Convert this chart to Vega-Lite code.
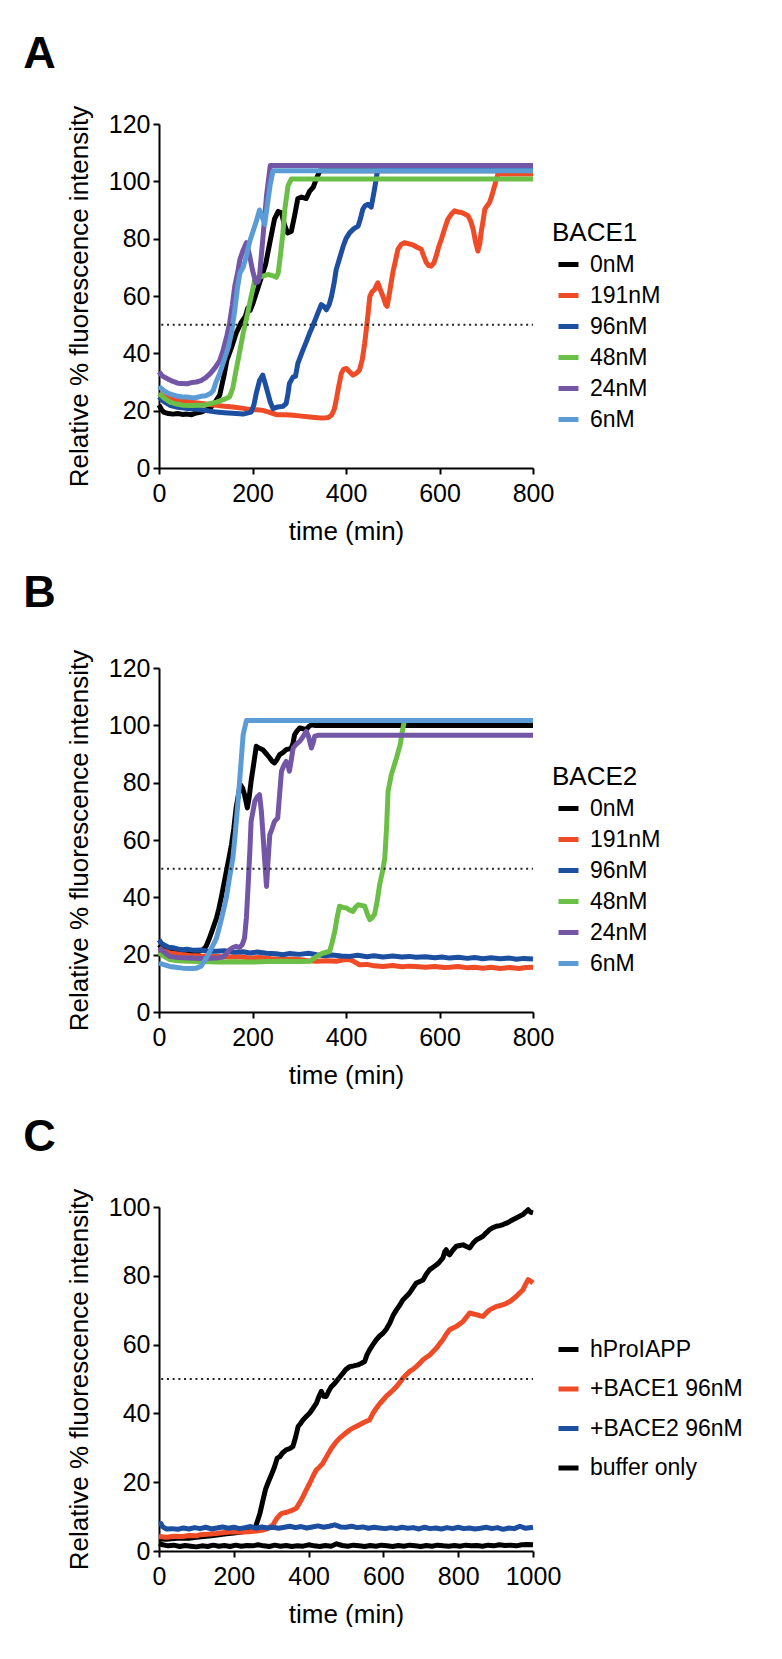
{
"$schema": "https://vega.github.io/schema/vega-lite/v6.json",
"background": "white",
"padding": {"left": 23, "top": 32, "right": 0, "bottom": 0},
"autosize": {"type": "pad"},
"spacing": 27,
"config": {
  "view": {"stroke": null},
  "font": "Liberation Sans",
  "axis": {"grid": false, "domainColor": "#000", "domainWidth": 2, "tickColor": "#000", "tickWidth": 2, "tickSize": 6,
           "labelFont": "Liberation Sans", "labelFontSize": 25, "labelColor": "#000", "labelFlush": false, "labelOverlap": false,
           "titleFont": "Liberation Sans", "titleFontSize": 26, "titleFontWeight": "normal", "titleColor": "#000"},
  "axisX": {"labelPadding": 7, "titlePadding": 12},
  "axisY": {"labelPadding": 3, "titlePadding": 16},
  "legend": {"symbolType": "stroke", "symbolSize": 400, "symbolStrokeWidth": 5, "labelFont": "Liberation Sans", "labelFontSize": 23, "labelColor": "#000",
             "titleFont": "Liberation Sans", "titleFontSize": 26, "titleFontWeight": "normal", "titleColor": "#000",
             "rowPadding": 6, "titlePadding": 6, "labelOffset": 9, "padding": 0, "symbolOffset": 4},
  "title": {"font": "Liberation Sans", "fontSize": 45, "fontWeight": "bold", "color": "#000", "anchor": "start", "frame": "bounds", "baseline": "alphabetic"}
},
"resolve": {"scale": {"color": "independent"}, "legend": {"color": "independent"}},
"datasets": {
"A": [
{"s":"0nM","t":0,"v":22},{"s":"0nM","t":5,"v":20.5},{"s":"0nM","t":10,"v":19.5},{"s":"0nM","t":20,"v":19},{"s":"0nM","t":30,"v":18.8},{"s":"0nM","t":40,"v":19},{"s":"0nM","t":50,"v":18.7},{"s":"0nM","t":60,"v":18.8},{"s":"0nM","t":70,"v":18.6},{"s":"0nM","t":80,"v":19.2},{"s":"0nM","t":90,"v":19.5},{"s":"0nM","t":100,"v":20.2},{"s":"0nM","t":110,"v":21},{"s":"0nM","t":120,"v":23},{"s":"0nM","t":130,"v":25.5},{"s":"0nM","t":140,"v":33},{"s":"0nM","t":145,"v":37.5},{"s":"0nM","t":155,"v":42},{"s":"0nM","t":165,"v":47},{"s":"0nM","t":175,"v":50.5},{"s":"0nM","t":185,"v":53},{"s":"0nM","t":190,"v":55.8},{"s":"0nM","t":195,"v":55},{"s":"0nM","t":200,"v":57},{"s":"0nM","t":210,"v":62},{"s":"0nM","t":220,"v":67},{"s":"0nM","t":228,"v":71},{"s":"0nM","t":237,"v":78.6},{"s":"0nM","t":247,"v":86.8},{"s":"0nM","t":255,"v":89.5},{"s":"0nM","t":262,"v":89},{"s":"0nM","t":268,"v":85},{"s":"0nM","t":275,"v":82},{"s":"0nM","t":283,"v":82.5},{"s":"0nM","t":290,"v":88},{"s":"0nM","t":297,"v":94},{"s":"0nM","t":305,"v":94.5},{"s":"0nM","t":315,"v":94},{"s":"0nM","t":322,"v":96.5},{"s":"0nM","t":330,"v":98},{"s":"0nM","t":337,"v":101},{"s":"0nM","t":344,"v":103.7},{"s":"0nM","t":800,"v":103.7},
{"s":"191nM","t":0,"v":26},{"s":"191nM","t":10,"v":25},{"s":"191nM","t":23,"v":24.2},{"s":"191nM","t":40,"v":23.8},{"s":"191nM","t":66,"v":23},{"s":"191nM","t":90,"v":22.5},{"s":"191nM","t":123,"v":21.9},{"s":"191nM","t":140,"v":21.5},{"s":"191nM","t":158,"v":21.3},{"s":"191nM","t":180,"v":20.8},{"s":"191nM","t":194,"v":20.4},{"s":"191nM","t":210,"v":20.3},{"s":"191nM","t":222,"v":20.1},{"s":"191nM","t":235,"v":19.5},{"s":"191nM","t":251,"v":18.6},{"s":"191nM","t":270,"v":18.6},{"s":"191nM","t":287,"v":18.4},{"s":"191nM","t":305,"v":18.1},{"s":"191nM","t":322,"v":17.8},{"s":"191nM","t":340,"v":17.5},{"s":"191nM","t":351,"v":17.4},{"s":"191nM","t":362,"v":17.6},{"s":"191nM","t":369,"v":18.4},{"s":"191nM","t":375,"v":20.5},{"s":"191nM","t":379,"v":23.6},{"s":"191nM","t":385,"v":29},{"s":"191nM","t":390,"v":33},{"s":"191nM","t":395,"v":34.5},{"s":"191nM","t":401,"v":34.7},{"s":"191nM","t":408,"v":33.5},{"s":"191nM","t":415,"v":32.4},{"s":"191nM","t":422,"v":33},{"s":"191nM","t":429,"v":34.2},{"s":"191nM","t":435,"v":38},{"s":"191nM","t":440,"v":43.5},{"s":"191nM","t":446,"v":52},{"s":"191nM","t":451,"v":59.9},{"s":"191nM","t":456,"v":61.5},{"s":"191nM","t":461,"v":62.2},{"s":"191nM","t":468,"v":64.6},{"s":"191nM","t":474,"v":62},{"s":"191nM","t":479,"v":59.9},{"s":"191nM","t":485,"v":57},{"s":"191nM","t":488,"v":56.4},{"s":"191nM","t":494,"v":62},{"s":"191nM","t":500,"v":68},{"s":"191nM","t":506,"v":72.5},{"s":"191nM","t":511,"v":76.3},{"s":"191nM","t":518,"v":78},{"s":"191nM","t":525,"v":78.6},{"s":"191nM","t":535,"v":78.2},{"s":"191nM","t":543,"v":77.8},{"s":"191nM","t":552,"v":77},{"s":"191nM","t":561,"v":76.3},{"s":"191nM","t":566,"v":74},{"s":"191nM","t":572,"v":71.6},{"s":"191nM","t":577,"v":70.6},{"s":"191nM","t":582,"v":70.4},{"s":"191nM","t":588,"v":71.5},{"s":"191nM","t":593,"v":74},{"s":"191nM","t":598,"v":77},{"s":"191nM","t":604,"v":79.8},{"s":"191nM","t":611,"v":83.5},{"s":"191nM","t":618,"v":86.8},{"s":"191nM","t":625,"v":88.5},{"s":"191nM","t":632,"v":89.7},{"s":"191nM","t":640,"v":89.3},{"s":"191nM","t":647,"v":89.1},{"s":"191nM","t":655,"v":88.5},{"s":"191nM","t":661,"v":88},{"s":"191nM","t":667,"v":86},{"s":"191nM","t":672,"v":83.3},{"s":"191nM","t":677,"v":79},{"s":"191nM","t":682,"v":75.7},{"s":"191nM","t":686,"v":78},{"s":"191nM","t":689,"v":82.1},{"s":"191nM","t":693,"v":86},{"s":"191nM","t":697,"v":90.3},{"s":"191nM","t":702,"v":91.5},{"s":"191nM","t":707,"v":92.6},{"s":"191nM","t":712,"v":95},{"s":"191nM","t":718,"v":98.5},{"s":"191nM","t":725,"v":102.6},{"s":"191nM","t":800,"v":102.6},
{"s":"96nM","t":0,"v":24.8},{"s":"96nM","t":10,"v":23.2},{"s":"96nM","t":23,"v":21.9},{"s":"96nM","t":40,"v":21.2},{"s":"96nM","t":66,"v":20.7},{"s":"96nM","t":90,"v":20.3},{"s":"96nM","t":123,"v":19.5},{"s":"96nM","t":140,"v":19.3},{"s":"96nM","t":165,"v":19},{"s":"96nM","t":180,"v":18.8},{"s":"96nM","t":197,"v":19.5},{"s":"96nM","t":203,"v":22},{"s":"96nM","t":208,"v":26},{"s":"96nM","t":215,"v":30.5},{"s":"96nM","t":222,"v":32.4},{"s":"96nM","t":228,"v":29},{"s":"96nM","t":233,"v":26},{"s":"96nM","t":238,"v":23},{"s":"96nM","t":244,"v":20.7},{"s":"96nM","t":254,"v":21.3},{"s":"96nM","t":265,"v":21.5},{"s":"96nM","t":272,"v":22.5},{"s":"96nM","t":276,"v":26},{"s":"96nM","t":279,"v":29.5},{"s":"96nM","t":287,"v":31.8},{"s":"96nM","t":292,"v":32},{"s":"96nM","t":297,"v":36.5},{"s":"96nM","t":308,"v":41.2},{"s":"96nM","t":315,"v":44},{"s":"96nM","t":322,"v":47},{"s":"96nM","t":330,"v":50},{"s":"96nM","t":337,"v":52.9},{"s":"96nM","t":347,"v":57},{"s":"96nM","t":352,"v":56.5},{"s":"96nM","t":358,"v":55.2},{"s":"96nM","t":364,"v":57},{"s":"96nM","t":369,"v":59.9},{"s":"96nM","t":374,"v":64},{"s":"96nM","t":379,"v":69.2},{"s":"96nM","t":386,"v":73},{"s":"96nM","t":394,"v":77.4},{"s":"96nM","t":400,"v":80},{"s":"96nM","t":408,"v":82.1},{"s":"96nM","t":417,"v":83.5},{"s":"96nM","t":426,"v":84.4},{"s":"96nM","t":431,"v":87},{"s":"96nM","t":436,"v":90.3},{"s":"96nM","t":441,"v":91.5},{"s":"96nM","t":447,"v":92},{"s":"96nM","t":454,"v":91},{"s":"96nM","t":461,"v":97.3},{"s":"96nM","t":468,"v":104.3},{"s":"96nM","t":800,"v":104.3},
{"s":"48nM","t":0,"v":26},{"s":"48nM","t":10,"v":24.5},{"s":"48nM","t":23,"v":23},{"s":"48nM","t":40,"v":22.2},{"s":"48nM","t":51,"v":21.9},{"s":"48nM","t":70,"v":21.8},{"s":"48nM","t":87,"v":21.9},{"s":"48nM","t":100,"v":22},{"s":"48nM","t":110,"v":22.5},{"s":"48nM","t":123,"v":23},{"s":"48nM","t":140,"v":24},{"s":"48nM","t":151,"v":24.8},{"s":"48nM","t":158,"v":28},{"s":"48nM","t":165,"v":34.2},{"s":"48nM","t":172,"v":40},{"s":"48nM","t":180,"v":47},{"s":"48nM","t":187,"v":52},{"s":"48nM","t":194,"v":57.5},{"s":"48nM","t":200,"v":62},{"s":"48nM","t":205,"v":65.7},{"s":"48nM","t":212,"v":66.5},{"s":"48nM","t":222,"v":66.9},{"s":"48nM","t":233,"v":67.5},{"s":"48nM","t":245,"v":67},{"s":"48nM","t":251,"v":66.5},{"s":"48nM","t":255,"v":68},{"s":"48nM","t":261,"v":76},{"s":"48nM","t":265,"v":82},{"s":"48nM","t":269,"v":90},{"s":"48nM","t":276,"v":98.5},{"s":"48nM","t":283,"v":100.8},{"s":"48nM","t":800,"v":100.8},
{"s":"24nM","t":0,"v":33.6},{"s":"24nM","t":5,"v":32.5},{"s":"24nM","t":10,"v":31.8},{"s":"24nM","t":20,"v":31},{"s":"24nM","t":30,"v":30.2},{"s":"24nM","t":40,"v":29.6},{"s":"24nM","t":50,"v":29.5},{"s":"24nM","t":60,"v":29.4},{"s":"24nM","t":70,"v":29.8},{"s":"24nM","t":80,"v":30},{"s":"24nM","t":90,"v":30.5},{"s":"24nM","t":100,"v":31.5},{"s":"24nM","t":110,"v":33},{"s":"24nM","t":120,"v":35},{"s":"24nM","t":130,"v":37.5},{"s":"24nM","t":137,"v":41},{"s":"24nM","t":145,"v":46},{"s":"24nM","t":151,"v":50.5},{"s":"24nM","t":157,"v":57},{"s":"24nM","t":162,"v":63.4},{"s":"24nM","t":168,"v":68},{"s":"24nM","t":173,"v":72.7},{"s":"24nM","t":180,"v":76},{"s":"24nM","t":187,"v":78.6},{"s":"24nM","t":194,"v":74},{"s":"24nM","t":200,"v":69},{"s":"24nM","t":207,"v":64.6},{"s":"24nM","t":212,"v":65},{"s":"24nM","t":215,"v":67},{"s":"24nM","t":222,"v":79.8},{"s":"24nM","t":230,"v":95},{"s":"24nM","t":238,"v":105.5},{"s":"24nM","t":800,"v":105.5},
{"s":"6nM","t":0,"v":28.5},{"s":"6nM","t":10,"v":27},{"s":"6nM","t":20,"v":26},{"s":"6nM","t":30,"v":25.5},{"s":"6nM","t":40,"v":25},{"s":"6nM","t":50,"v":24.8},{"s":"6nM","t":60,"v":24.8},{"s":"6nM","t":70,"v":24.5},{"s":"6nM","t":80,"v":24.6},{"s":"6nM","t":90,"v":25},{"s":"6nM","t":100,"v":25.2},{"s":"6nM","t":110,"v":26},{"s":"6nM","t":116,"v":27},{"s":"6nM","t":122,"v":30},{"s":"6nM","t":130,"v":33},{"s":"6nM","t":140,"v":38},{"s":"6nM","t":148,"v":42},{"s":"6nM","t":155,"v":47},{"s":"6nM","t":162,"v":55},{"s":"6nM","t":168,"v":63},{"s":"6nM","t":173,"v":68},{"s":"6nM","t":180,"v":70},{"s":"6nM","t":187,"v":74},{"s":"6nM","t":194,"v":79},{"s":"6nM","t":200,"v":82},{"s":"6nM","t":208,"v":86},{"s":"6nM","t":215,"v":90},{"s":"6nM","t":220,"v":88},{"s":"6nM","t":226,"v":85},{"s":"6nM","t":232,"v":92},{"s":"6nM","t":238,"v":99},{"s":"6nM","t":244,"v":103.7},{"s":"6nM","t":800,"v":103.7}
],
"B": [
{"s":"0nM","t":0,"v":23.5},{"s":"0nM","t":10,"v":22},{"s":"0nM","t":23,"v":21.2},{"s":"0nM","t":40,"v":20.9},{"s":"0nM","t":66,"v":20.6},{"s":"0nM","t":80,"v":20.8},{"s":"0nM","t":94,"v":21.7},{"s":"0nM","t":101,"v":23},{"s":"0nM","t":108,"v":25.8},{"s":"0nM","t":115,"v":29},{"s":"0nM","t":123,"v":32.8},{"s":"0nM","t":128,"v":36},{"s":"0nM","t":133,"v":39.8},{"s":"0nM","t":138,"v":44},{"s":"0nM","t":144,"v":49},{"s":"0nM","t":150,"v":54},{"s":"0nM","t":155,"v":58.4},{"s":"0nM","t":160,"v":64},{"s":"0nM","t":165,"v":71.2},{"s":"0nM","t":170,"v":76},{"s":"0nM","t":174,"v":79.3},{"s":"0nM","t":179,"v":78},{"s":"0nM","t":183,"v":75.8},{"s":"0nM","t":189,"v":71.2},{"s":"0nM","t":193,"v":75},{"s":"0nM","t":197,"v":80.5},{"s":"0nM","t":203,"v":87},{"s":"0nM","t":208,"v":92.7},{"s":"0nM","t":215,"v":92},{"s":"0nM","t":222,"v":91.5},{"s":"0nM","t":230,"v":90},{"s":"0nM","t":237,"v":88.6},{"s":"0nM","t":242,"v":87.5},{"s":"0nM","t":247,"v":86.9},{"s":"0nM","t":252,"v":88},{"s":"0nM","t":258,"v":89.8},{"s":"0nM","t":265,"v":90.5},{"s":"0nM","t":272,"v":91.5},{"s":"0nM","t":279,"v":91.8},{"s":"0nM","t":283,"v":92.1},{"s":"0nM","t":287,"v":94},{"s":"0nM","t":290,"v":96.7},{"s":"0nM","t":295,"v":98},{"s":"0nM","t":301,"v":99.1},{"s":"0nM","t":308,"v":98.8},{"s":"0nM","t":315,"v":98.5},{"s":"0nM","t":320,"v":99.5},{"s":"0nM","t":326,"v":100.2},{"s":"0nM","t":335,"v":99.9},{"s":"0nM","t":800,"v":99.9},
{"s":"191nM","t":0,"v":22.3},{"s":"191nM","t":10,"v":21.3},{"s":"191nM","t":23,"v":20.6},{"s":"191nM","t":40,"v":20.2},{"s":"191nM","t":66,"v":19.7},{"s":"191nM","t":90,"v":19.5},{"s":"191nM","t":123,"v":19.4},{"s":"191nM","t":150,"v":19.2},{"s":"191nM","t":175,"v":19.3},{"s":"191nM","t":194,"v":18.8},{"s":"191nM","t":215,"v":19},{"s":"191nM","t":240,"v":18.6},{"s":"191nM","t":265,"v":18.3},{"s":"191nM","t":290,"v":18.5},{"s":"191nM","t":315,"v":18},{"s":"191nM","t":337,"v":17.7},{"s":"191nM","t":360,"v":17.9},{"s":"191nM","t":379,"v":17.7},{"s":"191nM","t":395,"v":18.2},{"s":"191nM","t":408,"v":18.3},{"s":"191nM","t":418,"v":17.5},{"s":"191nM","t":429,"v":16.5},{"s":"191nM","t":445,"v":16.6},{"s":"191nM","t":460,"v":16.1},{"s":"191nM","t":479,"v":15.9},{"s":"191nM","t":500,"v":16.2},{"s":"191nM","t":520,"v":15.8},{"s":"191nM","t":535,"v":16},{"s":"191nM","t":550,"v":15.9},{"s":"191nM","t":570,"v":15.6},{"s":"191nM","t":590,"v":15.9},{"s":"191nM","t":610,"v":15.5},{"s":"191nM","t":622,"v":15.6},{"s":"191nM","t":640,"v":15.9},{"s":"191nM","t":660,"v":15.4},{"s":"191nM","t":675,"v":15.6},{"s":"191nM","t":693,"v":15.3},{"s":"191nM","t":710,"v":15.6},{"s":"191nM","t":730,"v":15.2},{"s":"191nM","t":750,"v":15.5},{"s":"191nM","t":770,"v":15.2},{"s":"191nM","t":785,"v":15.5},{"s":"191nM","t":800,"v":15.6},
{"s":"96nM","t":0,"v":25.2},{"s":"96nM","t":5,"v":24},{"s":"96nM","t":10,"v":23.5},{"s":"96nM","t":20,"v":22.6},{"s":"96nM","t":30,"v":22.4},{"s":"96nM","t":40,"v":22},{"s":"96nM","t":51,"v":21.7},{"s":"96nM","t":60,"v":21.9},{"s":"96nM","t":75,"v":21.5},{"s":"96nM","t":90,"v":21.6},{"s":"96nM","t":105,"v":21.2},{"s":"96nM","t":123,"v":21.2},{"s":"96nM","t":140,"v":21.4},{"s":"96nM","t":160,"v":20.8},{"s":"96nM","t":180,"v":21},{"s":"96nM","t":194,"v":20.6},{"s":"96nM","t":210,"v":20.9},{"s":"96nM","t":230,"v":20.5},{"s":"96nM","t":250,"v":20.3},{"s":"96nM","t":265,"v":20},{"s":"96nM","t":280,"v":20.4},{"s":"96nM","t":300,"v":20.1},{"s":"96nM","t":320,"v":20.5},{"s":"96nM","t":337,"v":20},{"s":"96nM","t":355,"v":19.6},{"s":"96nM","t":370,"v":19.9},{"s":"96nM","t":390,"v":19.5},{"s":"96nM","t":408,"v":19.4},{"s":"96nM","t":425,"v":19.8},{"s":"96nM","t":445,"v":19.3},{"s":"96nM","t":460,"v":19.6},{"s":"96nM","t":479,"v":19.2},{"s":"96nM","t":500,"v":19.5},{"s":"96nM","t":520,"v":19.2},{"s":"96nM","t":535,"v":19.4},{"s":"96nM","t":550,"v":19.1},{"s":"96nM","t":570,"v":19.3},{"s":"96nM","t":590,"v":18.9},{"s":"96nM","t":605,"v":19.2},{"s":"96nM","t":622,"v":18.8},{"s":"96nM","t":640,"v":19.1},{"s":"96nM","t":660,"v":18.7},{"s":"96nM","t":675,"v":19},{"s":"96nM","t":693,"v":18.6},{"s":"96nM","t":710,"v":18.9},{"s":"96nM","t":730,"v":18.6},{"s":"96nM","t":750,"v":18.8},{"s":"96nM","t":765,"v":18.4},{"s":"96nM","t":780,"v":18.7},{"s":"96nM","t":800,"v":18.5},
{"s":"48nM","t":0,"v":20.6},{"s":"48nM","t":10,"v":19.5},{"s":"48nM","t":23,"v":18.3},{"s":"48nM","t":40,"v":17.9},{"s":"48nM","t":66,"v":17.7},{"s":"48nM","t":90,"v":17.6},{"s":"48nM","t":123,"v":17.4},{"s":"48nM","t":160,"v":17.5},{"s":"48nM","t":194,"v":17.4},{"s":"48nM","t":230,"v":17.6},{"s":"48nM","t":265,"v":17.7},{"s":"48nM","t":300,"v":17.6},{"s":"48nM","t":322,"v":17.7},{"s":"48nM","t":330,"v":18.5},{"s":"48nM","t":337,"v":19.4},{"s":"48nM","t":350,"v":20.5},{"s":"48nM","t":365,"v":21.2},{"s":"48nM","t":370,"v":24},{"s":"48nM","t":376,"v":28.1},{"s":"48nM","t":381,"v":33},{"s":"48nM","t":386,"v":36.9},{"s":"48nM","t":393,"v":36.5},{"s":"48nM","t":401,"v":36.3},{"s":"48nM","t":408,"v":35.5},{"s":"48nM","t":415,"v":35.1},{"s":"48nM","t":420,"v":36.5},{"s":"48nM","t":426,"v":37.4},{"s":"48nM","t":433,"v":37.2},{"s":"48nM","t":440,"v":36.9},{"s":"48nM","t":446,"v":34},{"s":"48nM","t":451,"v":32.2},{"s":"48nM","t":456,"v":33},{"s":"48nM","t":461,"v":34},{"s":"48nM","t":466,"v":38},{"s":"48nM","t":472,"v":44.4},{"s":"48nM","t":478,"v":49},{"s":"48nM","t":483,"v":53.7},{"s":"48nM","t":487,"v":65},{"s":"48nM","t":490,"v":77},{"s":"48nM","t":497,"v":82.8},{"s":"48nM","t":503,"v":86},{"s":"48nM","t":508,"v":88.6},{"s":"48nM","t":512,"v":91},{"s":"48nM","t":516,"v":93.3},{"s":"48nM","t":520,"v":97.5},{"s":"48nM","t":525,"v":101.7},{"s":"48nM","t":800,"v":101.7},
{"s":"24nM","t":0,"v":22.3},{"s":"24nM","t":10,"v":21},{"s":"24nM","t":23,"v":19.4},{"s":"24nM","t":40,"v":19},{"s":"24nM","t":66,"v":18.8},{"s":"24nM","t":90,"v":18.7},{"s":"24nM","t":123,"v":18.8},{"s":"24nM","t":137,"v":19.2},{"s":"24nM","t":145,"v":20.5},{"s":"24nM","t":151,"v":21.7},{"s":"24nM","t":158,"v":22.5},{"s":"24nM","t":165,"v":22.9},{"s":"24nM","t":172,"v":22.5},{"s":"24nM","t":178,"v":23.5},{"s":"24nM","t":183,"v":25.8},{"s":"24nM","t":187,"v":33},{"s":"24nM","t":190,"v":42.1},{"s":"24nM","t":194,"v":55},{"s":"24nM","t":197,"v":66.5},{"s":"24nM","t":201,"v":70},{"s":"24nM","t":205,"v":73.5},{"s":"24nM","t":210,"v":75},{"s":"24nM","t":215,"v":75.8},{"s":"24nM","t":219,"v":70},{"s":"24nM","t":222,"v":63},{"s":"24nM","t":226,"v":53},{"s":"24nM","t":230,"v":43.8},{"s":"24nM","t":233,"v":52},{"s":"24nM","t":237,"v":61.9},{"s":"24nM","t":242,"v":64},{"s":"24nM","t":247,"v":66.5},{"s":"24nM","t":254,"v":67.7},{"s":"24nM","t":258,"v":76},{"s":"24nM","t":262,"v":84},{"s":"24nM","t":267,"v":86},{"s":"24nM","t":272,"v":87.4},{"s":"24nM","t":276,"v":86},{"s":"24nM","t":279,"v":84},{"s":"24nM","t":283,"v":88},{"s":"24nM","t":287,"v":92.1},{"s":"24nM","t":294,"v":93.5},{"s":"24nM","t":301,"v":94.4},{"s":"24nM","t":308,"v":96},{"s":"24nM","t":315,"v":97.9},{"s":"24nM","t":320,"v":96},{"s":"24nM","t":326,"v":92.1},{"s":"24nM","t":330,"v":94},{"s":"24nM","t":333,"v":96.2},{"s":"24nM","t":340,"v":96.5},{"s":"24nM","t":800,"v":96.5},
{"s":"6nM","t":0,"v":17.1},{"s":"6nM","t":10,"v":16.5},{"s":"6nM","t":23,"v":15.9},{"s":"6nM","t":40,"v":15.5},{"s":"6nM","t":51,"v":15.3},{"s":"6nM","t":66,"v":15.2},{"s":"6nM","t":80,"v":15.3},{"s":"6nM","t":90,"v":16},{"s":"6nM","t":101,"v":18.8},{"s":"6nM","t":110,"v":21.5},{"s":"6nM","t":123,"v":25.8},{"s":"6nM","t":133,"v":32},{"s":"6nM","t":144,"v":39.8},{"s":"6nM","t":150,"v":46},{"s":"6nM","t":158,"v":53.7},{"s":"6nM","t":163,"v":62},{"s":"6nM","t":169,"v":73.5},{"s":"6nM","t":175,"v":86},{"s":"6nM","t":180,"v":96.7},{"s":"6nM","t":187,"v":101.7},{"s":"6nM","t":800,"v":101.7}
],
"C": [
{"s":"hProIAPP","t":0,"v":3.5},{"s":"hProIAPP","t":20,"v":3.4},{"s":"hProIAPP","t":40,"v":3.6},{"s":"hProIAPP","t":60,"v":3.8},{"s":"hProIAPP","t":80,"v":3.7},{"s":"hProIAPP","t":100,"v":4},{"s":"hProIAPP","t":120,"v":4.2},{"s":"hProIAPP","t":140,"v":4.4},{"s":"hProIAPP","t":160,"v":4.7},{"s":"hProIAPP","t":180,"v":5},{"s":"hProIAPP","t":200,"v":5.2},{"s":"hProIAPP","t":220,"v":5.5},{"s":"hProIAPP","t":240,"v":5.8},{"s":"hProIAPP","t":255,"v":6.5},{"s":"hProIAPP","t":260,"v":7.6},{"s":"hProIAPP","t":270,"v":11},{"s":"hProIAPP","t":278,"v":14.8},{"s":"hProIAPP","t":285,"v":18},{"s":"hProIAPP","t":291,"v":19.7},{"s":"hProIAPP","t":300,"v":22},{"s":"hProIAPP","t":309,"v":24.5},{"s":"hProIAPP","t":316,"v":27},{"s":"hProIAPP","t":323,"v":27.4},{"s":"hProIAPP","t":330,"v":28.5},{"s":"hProIAPP","t":340,"v":29.4},{"s":"hProIAPP","t":350,"v":29.8},{"s":"hProIAPP","t":358,"v":30.4},{"s":"hProIAPP","t":365,"v":33},{"s":"hProIAPP","t":372,"v":36.2},{"s":"hProIAPP","t":378,"v":37},{"s":"hProIAPP","t":385,"v":38.1},{"s":"hProIAPP","t":393,"v":39},{"s":"hProIAPP","t":403,"v":40.1},{"s":"hProIAPP","t":412,"v":41.5},{"s":"hProIAPP","t":421,"v":43},{"s":"hProIAPP","t":428,"v":45},{"s":"hProIAPP","t":434,"v":46.4},{"s":"hProIAPP","t":440,"v":45},{"s":"hProIAPP","t":447,"v":44.9},{"s":"hProIAPP","t":454,"v":46.5},{"s":"hProIAPP","t":461,"v":47.8},{"s":"hProIAPP","t":468,"v":48.5},{"s":"hProIAPP","t":474,"v":49.3},{"s":"hProIAPP","t":483,"v":50.5},{"s":"hProIAPP","t":492,"v":51.7},{"s":"hProIAPP","t":500,"v":52.8},{"s":"hProIAPP","t":510,"v":53.6},{"s":"hProIAPP","t":520,"v":53.8},{"s":"hProIAPP","t":532,"v":54.1},{"s":"hProIAPP","t":540,"v":54.5},{"s":"hProIAPP","t":550,"v":55.1},{"s":"hProIAPP","t":556,"v":57},{"s":"hProIAPP","t":563,"v":58.5},{"s":"hProIAPP","t":572,"v":60},{"s":"hProIAPP","t":581,"v":61.4},{"s":"hProIAPP","t":590,"v":62.5},{"s":"hProIAPP","t":599,"v":63.3},{"s":"hProIAPP","t":608,"v":64.5},{"s":"hProIAPP","t":617,"v":66.2},{"s":"hProIAPP","t":626,"v":68.5},{"s":"hProIAPP","t":635,"v":70.1},{"s":"hProIAPP","t":644,"v":71.5},{"s":"hProIAPP","t":652,"v":73},{"s":"hProIAPP","t":661,"v":74},{"s":"hProIAPP","t":670,"v":75},{"s":"hProIAPP","t":679,"v":76.5},{"s":"hProIAPP","t":688,"v":77.9},{"s":"hProIAPP","t":697,"v":78.3},{"s":"hProIAPP","t":706,"v":78.8},{"s":"hProIAPP","t":715,"v":80.5},{"s":"hProIAPP","t":724,"v":81.8},{"s":"hProIAPP","t":733,"v":82.5},{"s":"hProIAPP","t":742,"v":83.2},{"s":"hProIAPP","t":750,"v":84},{"s":"hProIAPP","t":759,"v":85.2},{"s":"hProIAPP","t":764,"v":87},{"s":"hProIAPP","t":768,"v":87.6},{"s":"hProIAPP","t":772,"v":86.5},{"s":"hProIAPP","t":777,"v":86.1},{"s":"hProIAPP","t":786,"v":87.5},{"s":"hProIAPP","t":795,"v":88.6},{"s":"hProIAPP","t":804,"v":88.8},{"s":"hProIAPP","t":813,"v":89},{"s":"hProIAPP","t":822,"v":88.5},{"s":"hProIAPP","t":831,"v":88.1},{"s":"hProIAPP","t":840,"v":89.5},{"s":"hProIAPP","t":849,"v":90.5},{"s":"hProIAPP","t":858,"v":91},{"s":"hProIAPP","t":866,"v":91.5},{"s":"hProIAPP","t":875,"v":92.5},{"s":"hProIAPP","t":884,"v":93.4},{"s":"hProIAPP","t":893,"v":94},{"s":"hProIAPP","t":902,"v":94.4},{"s":"hProIAPP","t":911,"v":94.6},{"s":"hProIAPP","t":920,"v":94.9},{"s":"hProIAPP","t":929,"v":95.3},{"s":"hProIAPP","t":938,"v":95.8},{"s":"hProIAPP","t":946,"v":96.3},{"s":"hProIAPP","t":955,"v":96.8},{"s":"hProIAPP","t":964,"v":97.3},{"s":"hProIAPP","t":973,"v":97.8},{"s":"hProIAPP","t":980,"v":98.5},{"s":"hProIAPP","t":987,"v":99.2},{"s":"hProIAPP","t":993,"v":98.5},{"s":"hProIAPP","t":1000,"v":98.3},
{"s":"+BACE1 96nM","t":0,"v":4.2},{"s":"+BACE1 96nM","t":20,"v":4},{"s":"+BACE1 96nM","t":40,"v":4.3},{"s":"+BACE1 96nM","t":64,"v":4.2},{"s":"+BACE1 96nM","t":80,"v":4.5},{"s":"+BACE1 96nM","t":100,"v":4.4},{"s":"+BACE1 96nM","t":109,"v":4.7},{"s":"+BACE1 96nM","t":130,"v":4.9},{"s":"+BACE1 96nM","t":153,"v":5.1},{"s":"+BACE1 96nM","t":175,"v":5.4},{"s":"+BACE1 96nM","t":198,"v":5.6},{"s":"+BACE1 96nM","t":220,"v":5.5},{"s":"+BACE1 96nM","t":242,"v":5.6},{"s":"+BACE1 96nM","t":260,"v":5.8},{"s":"+BACE1 96nM","t":278,"v":6.1},{"s":"+BACE1 96nM","t":290,"v":6.5},{"s":"+BACE1 96nM","t":305,"v":7.6},{"s":"+BACE1 96nM","t":315,"v":9.5},{"s":"+BACE1 96nM","t":323,"v":10.5},{"s":"+BACE1 96nM","t":330,"v":11},{"s":"+BACE1 96nM","t":340,"v":11.2},{"s":"+BACE1 96nM","t":355,"v":11.8},{"s":"+BACE1 96nM","t":367,"v":12.4},{"s":"+BACE1 96nM","t":376,"v":14},{"s":"+BACE1 96nM","t":385,"v":15.8},{"s":"+BACE1 96nM","t":394,"v":17.8},{"s":"+BACE1 96nM","t":403,"v":19.7},{"s":"+BACE1 96nM","t":412,"v":21.8},{"s":"+BACE1 96nM","t":421,"v":23.6},{"s":"+BACE1 96nM","t":430,"v":24.5},{"s":"+BACE1 96nM","t":438,"v":25.5},{"s":"+BACE1 96nM","t":450,"v":27.8},{"s":"+BACE1 96nM","t":461,"v":29.9},{"s":"+BACE1 96nM","t":472,"v":31.5},{"s":"+BACE1 96nM","t":483,"v":32.8},{"s":"+BACE1 96nM","t":496,"v":34},{"s":"+BACE1 96nM","t":510,"v":35.2},{"s":"+BACE1 96nM","t":523,"v":36},{"s":"+BACE1 96nM","t":536,"v":36.7},{"s":"+BACE1 96nM","t":550,"v":37.5},{"s":"+BACE1 96nM","t":563,"v":38.1},{"s":"+BACE1 96nM","t":572,"v":40},{"s":"+BACE1 96nM","t":581,"v":41.5},{"s":"+BACE1 96nM","t":590,"v":42.8},{"s":"+BACE1 96nM","t":599,"v":43.9},{"s":"+BACE1 96nM","t":608,"v":45},{"s":"+BACE1 96nM","t":617,"v":45.9},{"s":"+BACE1 96nM","t":626,"v":46.8},{"s":"+BACE1 96nM","t":635,"v":47.8},{"s":"+BACE1 96nM","t":644,"v":49},{"s":"+BACE1 96nM","t":652,"v":50.2},{"s":"+BACE1 96nM","t":661,"v":51.2},{"s":"+BACE1 96nM","t":670,"v":52.2},{"s":"+BACE1 96nM","t":679,"v":52.8},{"s":"+BACE1 96nM","t":688,"v":53.6},{"s":"+BACE1 96nM","t":697,"v":54.6},{"s":"+BACE1 96nM","t":706,"v":55.6},{"s":"+BACE1 96nM","t":715,"v":56.3},{"s":"+BACE1 96nM","t":724,"v":57},{"s":"+BACE1 96nM","t":733,"v":58},{"s":"+BACE1 96nM","t":742,"v":59},{"s":"+BACE1 96nM","t":750,"v":60.2},{"s":"+BACE1 96nM","t":759,"v":61.4},{"s":"+BACE1 96nM","t":768,"v":63},{"s":"+BACE1 96nM","t":777,"v":64.3},{"s":"+BACE1 96nM","t":786,"v":64.8},{"s":"+BACE1 96nM","t":795,"v":65.3},{"s":"+BACE1 96nM","t":804,"v":66},{"s":"+BACE1 96nM","t":813,"v":66.7},{"s":"+BACE1 96nM","t":822,"v":68},{"s":"+BACE1 96nM","t":831,"v":69.2},{"s":"+BACE1 96nM","t":840,"v":68.9},{"s":"+BACE1 96nM","t":849,"v":68.7},{"s":"+BACE1 96nM","t":857,"v":68.4},{"s":"+BACE1 96nM","t":866,"v":68.2},{"s":"+BACE1 96nM","t":875,"v":69.2},{"s":"+BACE1 96nM","t":884,"v":70.1},{"s":"+BACE1 96nM","t":893,"v":70.6},{"s":"+BACE1 96nM","t":902,"v":71.1},{"s":"+BACE1 96nM","t":911,"v":71.3},{"s":"+BACE1 96nM","t":920,"v":71.6},{"s":"+BACE1 96nM","t":929,"v":72},{"s":"+BACE1 96nM","t":938,"v":72.5},{"s":"+BACE1 96nM","t":946,"v":73.2},{"s":"+BACE1 96nM","t":955,"v":74},{"s":"+BACE1 96nM","t":964,"v":75},{"s":"+BACE1 96nM","t":973,"v":75.9},{"s":"+BACE1 96nM","t":980,"v":77.5},{"s":"+BACE1 96nM","t":987,"v":78.9},{"s":"+BACE1 96nM","t":993,"v":78.5},{"s":"+BACE1 96nM","t":1000,"v":77.9},
{"s":"+BACE2 96nM","t":0,"v":7.8},{"s":"+BACE2 96nM","t":5,"v":8},{"s":"+BACE2 96nM","t":10,"v":7},{"s":"+BACE2 96nM","t":20,"v":6.4},{"s":"+BACE2 96nM","t":35,"v":6.5},{"s":"+BACE2 96nM","t":50,"v":6.3},{"s":"+BACE2 96nM","t":65,"v":6.7},{"s":"+BACE2 96nM","t":80,"v":6.4},{"s":"+BACE2 96nM","t":95,"v":6.8},{"s":"+BACE2 96nM","t":110,"v":6.5},{"s":"+BACE2 96nM","t":125,"v":6.9},{"s":"+BACE2 96nM","t":140,"v":6.4},{"s":"+BACE2 96nM","t":155,"v":6.7},{"s":"+BACE2 96nM","t":170,"v":7},{"s":"+BACE2 96nM","t":185,"v":6.6},{"s":"+BACE2 96nM","t":200,"v":6.9},{"s":"+BACE2 96nM","t":215,"v":6.5},{"s":"+BACE2 96nM","t":230,"v":6.8},{"s":"+BACE2 96nM","t":245,"v":7.1},{"s":"+BACE2 96nM","t":260,"v":6.6},{"s":"+BACE2 96nM","t":275,"v":7},{"s":"+BACE2 96nM","t":290,"v":6.7},{"s":"+BACE2 96nM","t":305,"v":6.9},{"s":"+BACE2 96nM","t":320,"v":6.6},{"s":"+BACE2 96nM","t":335,"v":6.9},{"s":"+BACE2 96nM","t":350,"v":7.2},{"s":"+BACE2 96nM","t":365,"v":6.8},{"s":"+BACE2 96nM","t":380,"v":7.1},{"s":"+BACE2 96nM","t":395,"v":6.7},{"s":"+BACE2 96nM","t":410,"v":7},{"s":"+BACE2 96nM","t":425,"v":7.3},{"s":"+BACE2 96nM","t":440,"v":6.9},{"s":"+BACE2 96nM","t":455,"v":7.2},{"s":"+BACE2 96nM","t":470,"v":7.6},{"s":"+BACE2 96nM","t":485,"v":7},{"s":"+BACE2 96nM","t":500,"v":6.9},{"s":"+BACE2 96nM","t":515,"v":7.2},{"s":"+BACE2 96nM","t":530,"v":6.8},{"s":"+BACE2 96nM","t":545,"v":7},{"s":"+BACE2 96nM","t":560,"v":6.6},{"s":"+BACE2 96nM","t":575,"v":6.9},{"s":"+BACE2 96nM","t":590,"v":6.7},{"s":"+BACE2 96nM","t":605,"v":6.5},{"s":"+BACE2 96nM","t":620,"v":6.8},{"s":"+BACE2 96nM","t":635,"v":6.5},{"s":"+BACE2 96nM","t":650,"v":6.9},{"s":"+BACE2 96nM","t":665,"v":6.6},{"s":"+BACE2 96nM","t":680,"v":6.8},{"s":"+BACE2 96nM","t":695,"v":6.4},{"s":"+BACE2 96nM","t":710,"v":6.9},{"s":"+BACE2 96nM","t":725,"v":6.5},{"s":"+BACE2 96nM","t":740,"v":6.7},{"s":"+BACE2 96nM","t":755,"v":6.4},{"s":"+BACE2 96nM","t":770,"v":6.8},{"s":"+BACE2 96nM","t":785,"v":6.5},{"s":"+BACE2 96nM","t":800,"v":6.9},{"s":"+BACE2 96nM","t":815,"v":6.5},{"s":"+BACE2 96nM","t":830,"v":6.7},{"s":"+BACE2 96nM","t":845,"v":6.4},{"s":"+BACE2 96nM","t":860,"v":6.6},{"s":"+BACE2 96nM","t":875,"v":6.9},{"s":"+BACE2 96nM","t":890,"v":6.5},{"s":"+BACE2 96nM","t":905,"v":6.8},{"s":"+BACE2 96nM","t":920,"v":6.3},{"s":"+BACE2 96nM","t":935,"v":6.7},{"s":"+BACE2 96nM","t":950,"v":6.5},{"s":"+BACE2 96nM","t":965,"v":7.2},{"s":"+BACE2 96nM","t":980,"v":6.6},{"s":"+BACE2 96nM","t":1000,"v":6.9},
{"s":"buffer only","t":0,"v":2.2},{"s":"buffer only","t":10,"v":1.8},{"s":"buffer only","t":25,"v":1.5},{"s":"buffer only","t":40,"v":1.7},{"s":"buffer only","t":55,"v":1.3},{"s":"buffer only","t":70,"v":1.6},{"s":"buffer only","t":85,"v":1.4},{"s":"buffer only","t":100,"v":1.2},{"s":"buffer only","t":115,"v":1.5},{"s":"buffer only","t":130,"v":1.3},{"s":"buffer only","t":145,"v":1.7},{"s":"buffer only","t":160,"v":1.4},{"s":"buffer only","t":175,"v":1.6},{"s":"buffer only","t":190,"v":1.3},{"s":"buffer only","t":205,"v":1.7},{"s":"buffer only","t":220,"v":1.4},{"s":"buffer only","t":235,"v":1.6},{"s":"buffer only","t":250,"v":1.5},{"s":"buffer only","t":265,"v":1.8},{"s":"buffer only","t":280,"v":1.5},{"s":"buffer only","t":295,"v":1.3},{"s":"buffer only","t":310,"v":1.7},{"s":"buffer only","t":325,"v":1.4},{"s":"buffer only","t":340,"v":1.6},{"s":"buffer only","t":355,"v":1.3},{"s":"buffer only","t":370,"v":1.5},{"s":"buffer only","t":385,"v":1.4},{"s":"buffer only","t":400,"v":1.8},{"s":"buffer only","t":415,"v":1.5},{"s":"buffer only","t":430,"v":1.3},{"s":"buffer only","t":445,"v":1.6},{"s":"buffer only","t":460,"v":1.4},{"s":"buffer only","t":475,"v":2.1},{"s":"buffer only","t":490,"v":1.6},{"s":"buffer only","t":505,"v":1.4},{"s":"buffer only","t":520,"v":1.7},{"s":"buffer only","t":535,"v":1.5},{"s":"buffer only","t":550,"v":1.3},{"s":"buffer only","t":565,"v":1.6},{"s":"buffer only","t":580,"v":1.4},{"s":"buffer only","t":595,"v":1.7},{"s":"buffer only","t":610,"v":1.5},{"s":"buffer only","t":625,"v":1.3},{"s":"buffer only","t":640,"v":1.6},{"s":"buffer only","t":655,"v":1.4},{"s":"buffer only","t":670,"v":1.7},{"s":"buffer only","t":685,"v":1.5},{"s":"buffer only","t":700,"v":1.3},{"s":"buffer only","t":715,"v":1.6},{"s":"buffer only","t":730,"v":1.4},{"s":"buffer only","t":745,"v":1.7},{"s":"buffer only","t":760,"v":1.5},{"s":"buffer only","t":775,"v":1.4},{"s":"buffer only","t":790,"v":1.6},{"s":"buffer only","t":805,"v":1.4},{"s":"buffer only","t":820,"v":1.7},{"s":"buffer only","t":835,"v":1.5},{"s":"buffer only","t":850,"v":1.6},{"s":"buffer only","t":865,"v":1.4},{"s":"buffer only","t":880,"v":1.7},{"s":"buffer only","t":895,"v":1.5},{"s":"buffer only","t":910,"v":1.8},{"s":"buffer only","t":925,"v":1.6},{"s":"buffer only","t":940,"v":1.7},{"s":"buffer only","t":955,"v":1.5},{"s":"buffer only","t":970,"v":1.8},{"s":"buffer only","t":985,"v":1.9},{"s":"buffer only","t":1000,"v":1.8}
],
"refAB": [{"t":5,"t2":800,"v":50}],
"refC": [{"t":6,"t2":1000,"v":50}]
},
"vconcat": [
{
 "title": {"text": "A", "dx": -43, "offset": 28},
 "width": 374, "height": 344,
 "layer": [
  {"data": {"name": "A"}, "mark": {"type": "line", "strokeWidth": 5, "strokeJoin": "round"},
   "encoding": {
    "x": {"field": "t", "type": "quantitative", "scale": {"domain": [0, 800], "nice": false}, "axis": {"values": [0,200,400,600,800], "format": "d", "title": "time (min)"}},
    "y": {"field": "v", "type": "quantitative", "scale": {"domain": [0, 120], "nice": false}, "axis": {"values": [0,20,40,60,80,100,120], "title": "Relative % fluorescence intensity"}},
    "color": {"field": "s", "type": "nominal", "sort": null,
      "scale": {"domain": ["0nM","191nM","96nM","48nM","24nM","6nM"], "range": ["#000000","#EF4B26","#1D4FA0","#6CBF46","#7356A6","#5C9CD6"]},
      "legend": {"title": "BACE1", "orient": "none", "legendX": 393, "legendY": 96}}
   }},
  {"data": {"name": "refAB"}, "mark": {"type": "rule", "strokeWidth": 2, "strokeDash": [2, 3.7], "color": "#222"},
   "encoding": {"x": {"field": "t", "type": "quantitative"}, "x2": {"field": "t2"}, "y": {"field": "v", "type": "quantitative"}}}
 ]
},
{
 "title": {"text": "B", "dx": -43, "offset": 33},
 "width": 374, "height": 344,
 "layer": [
  {"data": {"name": "B"}, "mark": {"type": "line", "strokeWidth": 5, "strokeJoin": "round"},
   "encoding": {
    "x": {"field": "t", "type": "quantitative", "scale": {"domain": [0, 800], "nice": false}, "axis": {"values": [0,200,400,600,800], "format": "d", "title": "time (min)"}},
    "y": {"field": "v", "type": "quantitative", "scale": {"domain": [0, 120], "nice": false}, "axis": {"values": [0,20,40,60,80,100,120], "title": "Relative % fluorescence intensity"}},
    "color": {"field": "s", "type": "nominal", "sort": null,
      "scale": {"domain": ["0nM","191nM","96nM","48nM","24nM","6nM"], "range": ["#000000","#EF4B26","#1D4FA0","#6CBF46","#7356A6","#5C9CD6"]},
      "legend": {"title": "BACE2", "orient": "none", "legendX": 393, "legendY": 96}}
   }},
  {"data": {"name": "refAB"}, "mark": {"type": "rule", "strokeWidth": 2, "strokeDash": [2, 3.7], "color": "#222"},
   "encoding": {"x": {"field": "t", "type": "quantitative"}, "x2": {"field": "t2"}, "y": {"field": "v", "type": "quantitative"}}}
 ]
},
{
 "title": {"text": "C", "dx": -43, "offset": 28},
 "width": 374, "height": 344,
 "layer": [
  {"data": {"name": "C"}, "mark": {"type": "line", "strokeWidth": 5, "strokeJoin": "round"},
   "encoding": {
    "x": {"field": "t", "type": "quantitative", "scale": {"domain": [0, 1000], "nice": false}, "axis": {"values": [0,200,400,600,800,1000], "format": "d", "title": "time (min)"}},
    "y": {"field": "v", "type": "quantitative", "scale": {"domain": [0, 100], "nice": false}, "axis": {"values": [0,20,40,60,80,100], "title": "Relative % fluorescence intensity"}},
    "color": {"field": "s", "type": "nominal", "sort": null,
      "scale": {"domain": ["hProIAPP","+BACE1 96nM","+BACE2 96nM","buffer only"], "range": ["#000000","#EF4B26","#1D4FA0","#000000"]},
      "legend": {"title": null, "orient": "none", "legendX": 393, "legendY": 130, "rowPadding": 14.5}}
   }},
  {"data": {"name": "refC"}, "mark": {"type": "rule", "strokeWidth": 2, "strokeDash": [2, 3.7], "color": "#222"},
   "encoding": {"x": {"field": "t", "type": "quantitative"}, "x2": {"field": "t2"}, "y": {"field": "v", "type": "quantitative"}}}
 ]
}
]
}
